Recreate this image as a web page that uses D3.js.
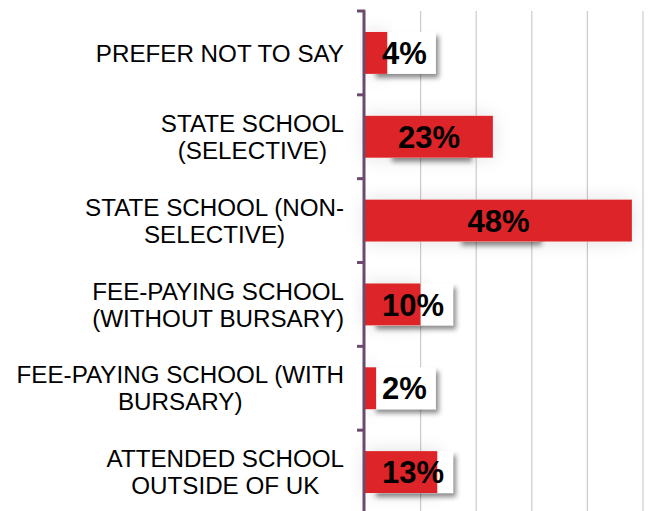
<!DOCTYPE html>
<html><head><meta charset="utf-8">
<script src="https://cdn.jsdelivr.net/npm/d3@7"></script>
<style>html,body{margin:0;padding:0;background:#fff;}svg{display:block;}</style>
</head><body>
<svg id="c" width="651" height="511"></svg>
<script>
const categories = [
  "PREFER NOT TO SAY",
  "STATE SCHOOL\n(SELECTIVE)",
  "STATE SCHOOL (NON-\nSELECTIVE)",
  "FEE-PAYING SCHOOL\n(WITHOUT BURSARY)",
  "FEE-PAYING SCHOOL (WITH\nBURSARY)",
  "ATTENDED SCHOOL\nOUTSIDE OF UK"
];
const values = [4, 23, 48, 10, 2, 13];
const valueLabels = ["4%", "23%", "48%", "10%", "2%", "13%"];
const gridTicks = [10, 20, 30, 40, 50];

const svg = d3.select("#c");
const defs = svg.append("defs");
const f1 = defs.append("filter").attr("id","boxShadow").attr("x","-30%").attr("y","-30%").attr("width","160%").attr("height","160%");
f1.append("feDropShadow").attr("dx",3).attr("dy",4).attr("stdDeviation",2.5).attr("flood-color","#000").attr("flood-opacity",0.45);
const f2 = defs.append("filter").attr("id","barGlow").attr("x","-20%").attr("y","-60%").attr("width","140%").attr("height","220%");
f2.append("feDropShadow").attr("dx",0).attr("dy",0).attr("stdDeviation",9).attr("flood-color","#000").attr("flood-opacity",0.12);

const x = d3.scaleLinear().domain([0, 50]).range([365, 643]);
const y = d3.scaleBand().domain(d3.range(categories.length)).range([11, 514]).paddingInner(0.5).paddingOuter(0.25);

// gridlines
svg.append("g").selectAll("line").data(gridTicks).join("line")
  .attr("x1", d => x(d)).attr("x2", d => x(d))
  .attr("y1", 11).attr("y2", 514)
  .attr("stroke", "#cfc8cf").attr("stroke-width", 1.2);

// bars (with soft glow)
svg.append("g").selectAll("rect").data(values).join("rect")
  .attr("x", x(0)).attr("y", (d,i) => y(i))
  .attr("width", d => x(d) - x(0)).attr("height", y.bandwidth())
  .attr("fill", "#fff").attr("filter", "url(#barGlow)");

const fs = 31;
const labG = svg.append("g");
const meas = labG.append("text").attr("font-family","Liberation Sans, Arial, sans-serif").attr("font-weight","bold").attr("font-size",fs);
const widths = valueLabels.map(t => { meas.text(t); return meas.node().getComputedTextLength(); });
meas.remove();
const pad = 9;
const boxes = values.map((v,i) => {
  const w = widths[i] + 2*pad;
  const c = (x(0) + x(v)) / 2;
  const left = Math.max(x(0) + 8, c - w/2);
  return {left, w, i};
});

// label boxes (behind bars)
labG.selectAll("rect").data(boxes).join("rect")
  .attr("x", d => d.left).attr("y", d => y(d.i))
  .attr("width", d => d.w).attr("height", y.bandwidth())
  .attr("fill", "#fff").attr("filter", "url(#boxShadow)");

// red bars
svg.append("g").selectAll("rect").data(values).join("rect")
  .attr("x", x(0)).attr("y", (d,i) => y(i))
  .attr("width", d => x(d) - x(0)).attr("height", y.bandwidth())
  .attr("fill", "#dd2429");

// value texts
svg.append("g").selectAll("text").data(boxes).join("text")
  .attr("x", d => d.left + d.w/2)
  .attr("y", d => y(d.i) + y.bandwidth()/2 + fs*0.716/2)
  .attr("text-anchor", "middle")
  .attr("font-family","Liberation Sans, Arial, sans-serif").attr("font-weight","bold").attr("font-size",fs)
  .attr("fill","#000")
  .text((d) => valueLabels[d.i]);

// axis line with ticks
const ax = svg.append("g");
ax.append("line").attr("x1", x(0)-1).attr("x2", x(0)-1).attr("y1", 10).attr("y2", 514)
  .attr("stroke", "#6d4a6d").attr("stroke-width", 3);
const tickYs = d3.range(categories.length + 1).map(k => y.range()[0] + k * y.step());
ax.selectAll("line.t").data(tickYs).join("line").attr("class","t")
  .attr("x1", x(0)-8).attr("x2", x(0)).attr("y1", d => d).attr("y2", d => d)
  .attr("stroke", "#6d4a6d").attr("stroke-width", 3);

// category labels
const catFs = 24.2, lh = 27;
const catG = svg.append("g").attr("font-family","Liberation Sans, Arial, sans-serif").attr("font-size",catFs).attr("fill","#000");
categories.forEach((cat, i) => {
  const lines = cat.split("\n");
  const t = catG.append("text").attr("text-anchor","middle");
  const spans = lines.map(l => t.append("tspan").text(l));
  const maxW = d3.max(spans, s => s.node().getComputedTextLength());
  const cx = 344 - maxW/2;
  const cy = y(i) + y.bandwidth()/2;
  const first = cy - (lines.length-1)*lh/2 + catFs*0.716/2;
  spans.forEach((s, k) => s.attr("x", cx).attr("y", first + k*lh));
});
</script>
</body></html>
